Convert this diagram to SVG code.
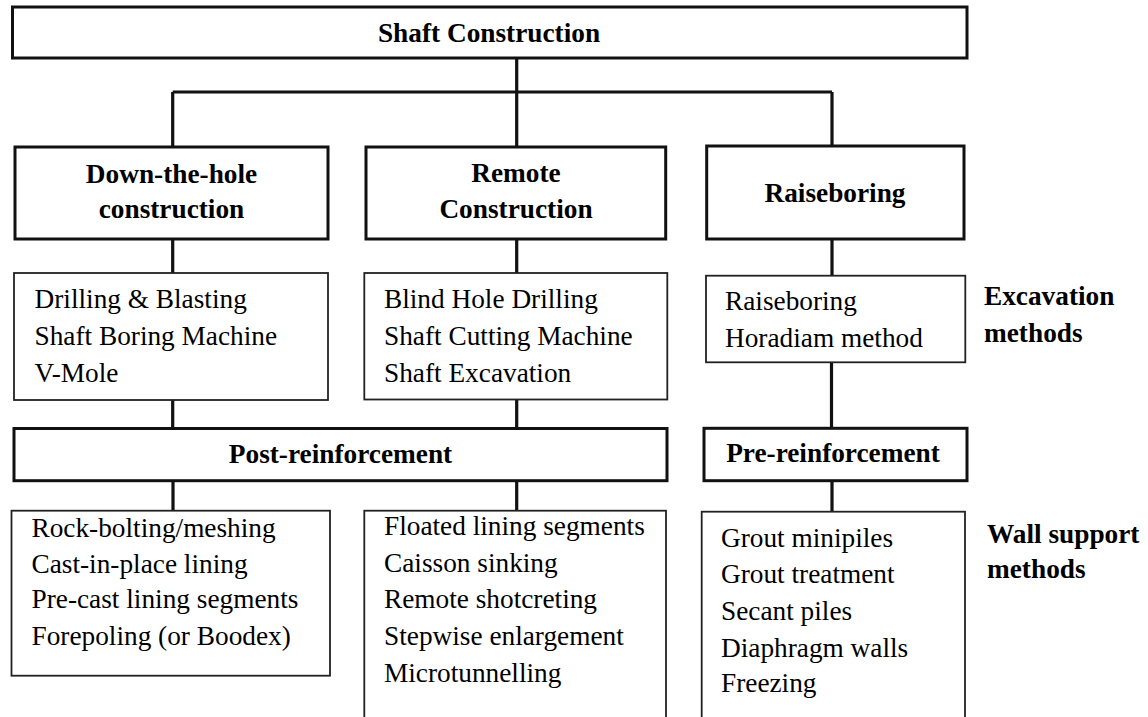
<svg xmlns="http://www.w3.org/2000/svg" width="1148" height="717" viewBox="0 0 1148 717">
  <style>
    .thick { fill: #fff; stroke: #111; stroke-width: 3; }
    .thin { fill: #fff; stroke: #222; stroke-width: 1.8; }
    .conn { fill: none; stroke: #111; stroke-width: 3.2; }
    .h { font-family: "Liberation Serif", "Times New Roman", serif; font-weight: bold; font-size: 27.3px; fill: #000; }
    .t { font-family: "Liberation Serif", "Times New Roman", serif; font-size: 27.3px; fill: #000; }
    .c { text-anchor: middle; }
  </style>
  <rect width="1148" height="717" fill="#fff"/>
  <g id="connectors">
    <path class="conn" d="M516.7 58 V92 M172.7 92 H832 M172.7 92 V147 M516.7 92 V147 M832 92 V146"/>
    <path class="conn" d="M172.7 239 V273 M516.7 239 V273 M832 239 V276"/>
    <path class="conn" d="M172.7 400 V429 M516.7 399.5 V429 M831.5 362 V428"/>
    <path class="conn" d="M173 481 V511 M516.7 481 V511 M832 481 V512"/>
  </g>
  <g id="shaft-construction">
    <rect class="thick" x="12.5" y="7" width="954.5" height="51"/>
    <text class="h c" x="489" y="42">Shaft Construction</text>
  </g>
  <g id="down-the-hole">
    <rect class="thick" x="15" y="147" width="313" height="92"/>
    <text class="h c" x="171.5" y="183">Down-the-hole</text>
    <text class="h c" x="171.5" y="218">construction</text>
  </g>
  <g id="remote">
    <rect class="thick" x="366" y="147" width="299.7" height="92"/>
    <text class="h c" x="516" y="182">Remote</text>
    <text class="h c" x="516" y="218">Construction</text>
  </g>
  <g id="raiseboring">
    <rect class="thick" x="706.7" y="146" width="257.3" height="93"/>
    <text class="h c" x="835" y="202">Raiseboring</text>
  </g>
  <g id="dth-excavation">
    <rect class="thin" x="14" y="273" width="314" height="127"/>
    <text class="t" x="34.5" y="308">Drilling &amp; Blasting</text>
    <text class="t" x="34.5" y="345">Shaft Boring Machine</text>
    <text class="t" x="34.5" y="381.7">V-Mole</text>
  </g>
  <g id="remote-excavation">
    <rect class="thin" x="364.3" y="273" width="303" height="126.5"/>
    <text class="t" x="384" y="308">Blind Hole Drilling</text>
    <text class="t" x="384" y="345">Shaft Cutting Machine</text>
    <text class="t" x="384" y="381.7">Shaft Excavation</text>
  </g>
  <g id="raise-excavation">
    <rect class="thin" x="706" y="275.7" width="259.3" height="86.6"/>
    <text class="t" x="725" y="310">Raiseboring</text>
    <text class="t" x="725" y="346.5">Horadiam method</text>
  </g>
  <g id="excavation-label">
    <text class="h" x="984" y="305">Excavation</text>
    <text class="h" x="984" y="341.7">methods</text>
  </g>
  <g id="post-reinforcement">
    <rect class="thick" x="14" y="428.5" width="653" height="52.2"/>
    <text class="h c" x="340.5" y="463">Post-reinforcement</text>
  </g>
  <g id="pre-reinforcement">
    <rect class="thick" x="704" y="428.3" width="263" height="52.4"/>
    <text class="h c" x="833" y="462">Pre-reinforcement</text>
  </g>
  <g id="dth-support">
    <rect class="thin" x="11.5" y="510.7" width="318.5" height="165"/>
    <text class="t" x="31.5" y="536.7">Rock-bolting/meshing</text>
    <text class="t" x="31.5" y="572.7">Cast-in-place lining</text>
    <text class="t" x="31.5" y="608.3">Pre-cast lining segments</text>
    <text class="t" x="31.5" y="645">Forepoling (or Boodex)</text>
  </g>
  <g id="remote-support">
    <rect class="thin" x="364.3" y="510.7" width="301.7" height="230"/>
    <text class="t" x="384" y="535">Floated lining segments</text>
    <text class="t" x="384" y="571.7">Caisson sinking</text>
    <text class="t" x="384" y="608.3">Remote shotcreting</text>
    <text class="t" x="384" y="645">Stepwise enlargement</text>
    <text class="t" x="384" y="681.7">Microtunnelling</text>
  </g>
  <g id="pre-support">
    <rect class="thin" x="701.7" y="511.7" width="263.3" height="230"/>
    <text class="t" x="721" y="547">Grout minipiles</text>
    <text class="t" x="721" y="583.3">Grout treatment</text>
    <text class="t" x="721" y="620">Secant piles</text>
    <text class="t" x="721" y="656.7">Diaphragm walls</text>
    <text class="t" x="721" y="692">Freezing</text>
  </g>
  <g id="wall-support-label">
    <text class="h" x="987" y="543.3">Wall support</text>
    <text class="h" x="987" y="578.3">methods</text>
  </g>
</svg>
